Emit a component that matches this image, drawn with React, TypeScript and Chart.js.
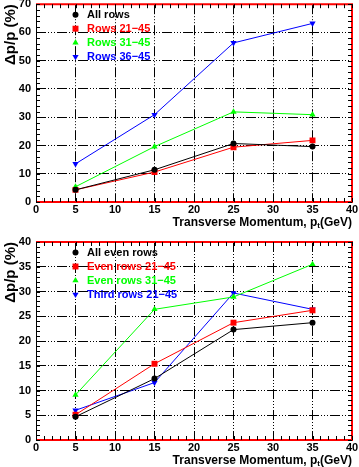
import React, { useEffect, useRef } from 'react';
import { Chart, registerables } from 'chart.js';

Chart.register(...registerables);

// ---------- data ----------
const xValues = [5, 15, 25, 35];

const topLabels = ['All rows', 'Rows 21\u221245', 'Rows 31\u221245', 'Rows 36\u221245'];
const topAllRows = [4.3, 11.4, 20.7, 19.6];
const topRows21 = [4.3, 10.6, 19.4, 21.8];
const topRows31 = [5.4, 19.6, 31.9, 30.9];
const topRows36 = [13.5, 30.9, 56.3, 63.2];

const bottomLabels = ['All even rows', 'Even rows 21\u221245', 'Even rows 31\u221245', 'Third rows 21\u221245'];
const bottomAllEven = [4.7, 12.4, 22.3, 23.7];
const bottomEven21 = [5.1, 15.4, 23.7, 26.2];
const bottomEven31 = [9.1, 26.4, 28.9, 35.5];
const bottomThird21 = [6.0, 11.6, 29.7, 26.4];

const xTickStep = 5;
const topYMax = 70;
const topYStep = 10;
const bottomYMax = 40;
const bottomYStep = 5;

const xTitleMain = 'Transverse Momentum, p';
const xTitleSub = 't';
const xTitleTail = '(GeV)';
const yTitle = '\u0394p/p (%)';

// ---------- styles ----------
const COLORS = ['#000000', '#ff0000', '#00ff00', '#0000ff'];
const POINT_STYLES = ['circle', 'rect', 'triangle', 'triangle'];
const POINT_ROT = [0, 0, 0, 180];
const POINT_R = [3, 4.2, 3.6, 3.6];
const FONT = '"Liberation Sans", Arial, Helvetica, sans-serif';
const GRID_DASH = [10, 2, 1, 2, 1, 2, 1, 2];

function drawMarker(ctx: CanvasRenderingContext2D, i: number, x: number, y: number) {
  const r = POINT_R[i];
  ctx.fillStyle = COLORS[i];
  ctx.beginPath();
  if (POINT_STYLES[i] === 'circle') {
    ctx.arc(x, y, r, 0, Math.PI * 2);
  } else if (POINT_STYLES[i] === 'rect') {
    const s = r * Math.SQRT1_2;
    ctx.rect(x - s, y - s, 2 * s, 2 * s);
  } else {
    let rad = (POINT_ROT[i] * Math.PI) / 180;
    ctx.moveTo(x + Math.sin(rad) * r, y - Math.cos(rad) * r);
    rad += (2 * Math.PI) / 3;
    ctx.lineTo(x + Math.sin(rad) * r, y - Math.cos(rad) * r);
    rad += (2 * Math.PI) / 3;
    ctx.lineTo(x + Math.sin(rad) * r, y - Math.cos(rad) * r);
    ctx.closePath();
  }
  ctx.fill();
}

function makeDecor(labels: string[], yMinor: number) {
  return {
    id: 'decor',
    afterDraw(chart: any) {
      const { ctx, chartArea } = chart;
      const { left, right, top, bottom } = chartArea;
      const xs = chart.scales.x;
      const ys = chart.scales.y;
      ctx.save();

      // frame
      ctx.lineWidth = 2;
      ctx.strokeStyle = '#ff0000';
      ctx.beginPath();
      ctx.moveTo(left, top);
      ctx.lineTo(right, top);
      ctx.lineTo(right, bottom);
      ctx.lineTo(left, bottom);
      ctx.stroke();
      ctx.lineWidth = 1;
      ctx.strokeStyle = '#000000';
      ctx.beginPath();
      ctx.moveTo(left + 0.5, top);
      ctx.lineTo(left + 0.5, bottom);
      ctx.stroke();

      // minor ticks
      ctx.beginPath();
      for (let v = xs.min; v <= xs.max + 1e-9; v += 1) {
        const px = Math.round(xs.getPixelForValue(v)) + 0.5;
        ctx.moveTo(px, bottom);
        ctx.lineTo(px, bottom - 4);
        ctx.moveTo(px, top);
        ctx.lineTo(px, top + 4);
      }
      for (let v = ys.min; v <= ys.max + 1e-9; v += yMinor) {
        const py = Math.round(ys.getPixelForValue(v)) + 0.5;
        ctx.moveTo(left, py);
        ctx.lineTo(left + 4, py);
        ctx.moveTo(right, py);
        ctx.lineTo(right - 4, py);
      }
      ctx.stroke();

      // legend
      const lx = xs.getPixelForValue(5);
      ctx.font = `bold 11px ${FONT}`;
      ctx.textBaseline = 'middle';
      ctx.textAlign = 'left';
      labels.forEach((lab, i) => {
        const ly = top + 10.5 + i * 14;
        drawMarker(ctx, i, lx, ly);
        ctx.fillStyle = COLORS[i];
        ctx.fillText(lab, lx + 11.5, ly);
      });

      // x title
      ctx.fillStyle = '#000000';
      ctx.textBaseline = 'alphabetic';
      const mainFont = `bold 12px ${FONT}`;
      const subFont = `bold 8px ${FONT}`;
      ctx.font = mainFont;
      const w1 = ctx.measureText(xTitleMain).width;
      const w3 = ctx.measureText(xTitleTail).width;
      ctx.font = subFont;
      const w2 = ctx.measureText(xTitleSub).width;
      let tx = right - (w1 + w2 + w3);
      const base = bottom + 23.5;
      ctx.font = mainFont;
      ctx.fillText(xTitleMain, tx, base);
      tx += w1;
      ctx.font = subFont;
      ctx.fillText(xTitleSub, tx, base + 2);
      tx += w2;
      ctx.font = mainFont;
      ctx.fillText(xTitleTail, tx, base);

      // y title
      ctx.save();
      ctx.translate(10.5, top);
      ctx.rotate(-Math.PI / 2);
      ctx.font = `bold 15px ${FONT}`;
      ctx.textAlign = 'right';
      ctx.textBaseline = 'middle';
      ctx.fillText(yTitle, 0, 0);
      ctx.restore();

      ctx.restore();
    },
  };
}

function makeConfig(
  labels: string[],
  series: number[][],
  yMax: number,
  yStep: number,
  yMinor: number,
  xAxisH: number,
  padTop: number
): any {
  const datasets = series.map((vals, i) => ({
    label: labels[i],
    data: xValues.map((x, j) => ({ x, y: vals[j] })),
    borderColor: COLORS[i],
    backgroundColor: COLORS[i],
    borderWidth: 1,
    pointStyle: POINT_STYLES[i],
    pointRotation: POINT_ROT[i],
    pointRadius: POINT_R[i],
    pointBorderWidth: 0,
    pointBackgroundColor: COLORS[i],
    tension: 0,
  }));
  return {
    type: 'line',
    data: { datasets },
    options: {
      responsive: false,
      animation: false,
      devicePixelRatio: 1,
      layout: { padding: { top: padTop, right: 7, left: 0, bottom: 0 } },
      plugins: { legend: { display: false }, tooltip: { enabled: false } },
      scales: {
        x: {
          type: 'linear',
          min: 0,
          max: 40,
          ticks: {
            stepSize: xTickStep,
            padding: 1,
            color: '#000',
            maxRotation: 0,
            autoSkip: false,
            font: { family: FONT, size: 11, weight: 'bold' },
          },
          grid: { color: '#000', lineWidth: 1, drawTicks: false },
          border: { display: false, dash: GRID_DASH },
          afterFit: (s: any) => {
            s.height = xAxisH;
            s.paddingLeft = 0;
            s.paddingRight = 0;
          },
        },
        y: {
          type: 'linear',
          min: 0,
          max: yMax,
          ticks: {
            stepSize: yStep,
            padding: 5,
            color: '#000',
            font: { family: FONT, size: 11, weight: 'bold' },
          },
          grid: { color: '#000', lineWidth: 1, drawTicks: false },
          border: { display: false, dash: GRID_DASH },
          afterFit: (s: any) => {
            s.width = 36;
            s.paddingTop = 0;
            s.paddingBottom = 0;
          },
        },
      },
    },
    plugins: [makeDecor(labels, yMinor)],
  };
}

export default function App() {
  const topRef = useRef<HTMLCanvasElement>(null);
  const botRef = useRef<HTMLCanvasElement>(null);

  useEffect(() => {
    const c1 = new Chart(
      topRef.current as HTMLCanvasElement,
      makeConfig(topLabels, [topAllRows, topRows21, topRows31, topRows36], topYMax, topYStep, 2, 30, 3)
    );
    const c2 = new Chart(
      botRef.current as HTMLCanvasElement,
      makeConfig(
        bottomLabels,
        [bottomAllEven, bottomEven21, bottomEven31, bottomThird21],
        bottomYMax,
        bottomYStep,
        1,
        27,
        10
      )
    );
    return () => {
      c1.destroy();
      c2.destroy();
    };
  }, []);

  return (
    <div style={{ position: 'absolute', left: 0, top: 0, width: 359, height: 467, background: '#fff' }}>
      <canvas
        ref={topRef}
        width={359}
        height={232}
        style={{ position: 'absolute', left: 0, top: 0, width: 359, height: 232 }}
      />
      <canvas
        ref={botRef}
        width={359}
        height={235}
        style={{ position: 'absolute', left: 0, top: 232, width: 359, height: 235 }}
      />
    </div>
  );
}
